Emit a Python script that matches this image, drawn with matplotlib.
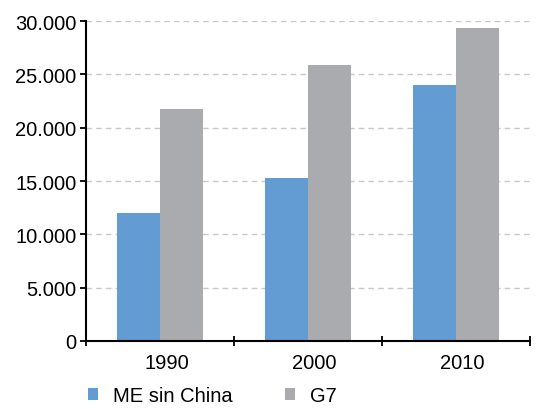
import numpy as np
import matplotlib
matplotlib.use("Agg")
import matplotlib.pyplot as plt
from matplotlib.ticker import FuncFormatter

plt.rcParams['font.family'] = ['Liberation Sans', 'DejaVu Sans']

# Data
years = ["1990", "2000", "2010"]
me_sin_china = [12000, 15300, 24000]
g7 = [21800, 25850, 29350]

blue = "#629cd3"
gray = "#a9abaf"

fig = plt.figure(figsize=(5.45, 4.1), dpi=100)
ax = fig.add_axes([0.158, 0.166, 0.814, 0.780])

x = np.arange(len(years))
w = 0.29
ax.bar(x - w / 2, me_sin_china, width=w, color=blue, label="ME sin China", zorder=2)
ax.bar(x + w / 2, g7, width=w, color=gray, label="G7", zorder=2)

ax.set_xlim(-0.5, 2.5)
ax.set_ylim(0, 30000)
ax.set_yticks(np.arange(0, 30001, 5000))
ax.yaxis.set_major_formatter(FuncFormatter(lambda v, p: f"{int(v):,}".replace(",", ".")))

# category ticks at the boundaries, labels near the centres
ax.set_xticks([-0.5, 0.5, 1.5, 2.5])
ax.set_xticklabels([])
ax.set_xticks(x + 0.045, minor=True)
ax.set_xticklabels(years, minor=True)
ax.tick_params(axis="x", which="minor", length=0, labelsize=14.5, pad=9)
ax.tick_params(axis="x", which="major", length=7, width=1.3, direction="inout")
ax.tick_params(axis="y", length=4, width=1.3, labelsize=14.5, pad=3)

ax.grid(axis="y", color="#c8c8c8", linestyle=(0, (4, 3)), linewidth=1, zorder=0)
ax.set_axisbelow(True)

for s in ["top", "right"]:
    ax.spines[s].set_visible(False)
for s in ["left", "bottom"]:
    ax.spines[s].set_linewidth(1.5)

fig.legend(loc="center left", bbox_to_anchor=(0.161, 0.032), ncol=2,
           frameon=False, fontsize=14.5, handlelength=0.5, handleheight=0.5,
           handletextpad=0.75, columnspacing=2.6, borderpad=0, borderaxespad=0)

fig.savefig("out.png", dpi=100)
